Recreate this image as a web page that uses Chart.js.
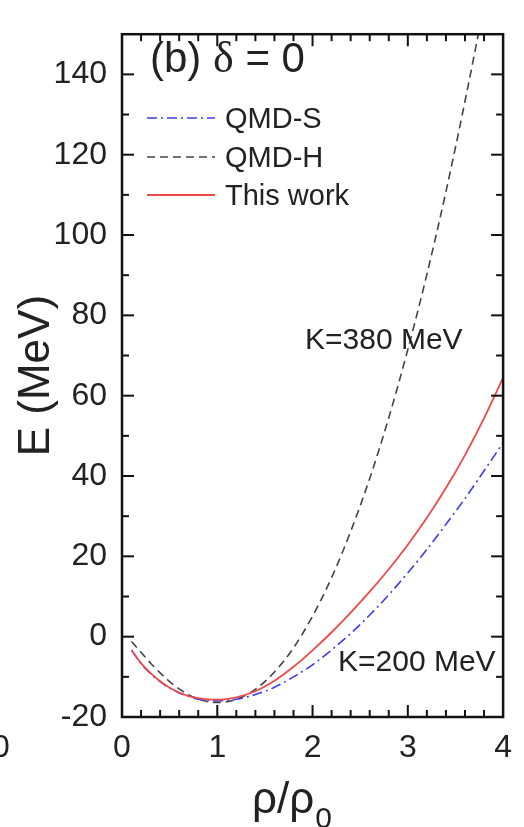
<!DOCTYPE html>
<html>
<head>
<meta charset="utf-8">
<title>E vs rho/rho0 (b) delta = 0</title>
<script src="https://cdn.jsdelivr.net/npm/chart.js@4.4.1/dist/chart.umd.min.js"></script>
<style>
  html, body { margin: 0; padding: 0; background: #fff; }
  canvas { display: block; }
</style>
</head>
<body>
<canvas id="eosChart" width="524" height="827"></canvas>
<script>
// values
const density = [0.1, 0.2, 0.3, 0.4, 0.5, 0.6, 0.7, 0.8, 0.9, 1.0, 1.2, 1.4, 1.6, 1.8, 2.0,
                 2.2, 2.4, 2.6, 2.8, 3.0, 3.2, 3.4, 3.6, 3.8, 4.0];
const qmdS = [-3.4, -6.7, -9.2, -11.2, -12.8, -14.0, -14.9, -15.6, -15.9, -16.0, -15.6, -14.4, -12.6, -10.0, -7.0,
              -3.3, 0.8, 5.4, 10.4, 15.9, 21.7, 28.0, 34.4, 41.3, 48.3];
const qmdH = [-1.2, -3.9, -6.6, -9.0, -11.2, -13.0, -14.5, -15.5, -16.2, -16.4, -15.6, -13.1, -8.8, -2.8, 5.1,
              14.7, 26.2, 39.4, 54.5, 71.5, 90.2, 110.8, 133.3, 157.5, 183.7];
const thisWork = [-3.3, -6.6, -9.1, -11.1, -12.7, -13.9, -14.8, -15.3, -15.6, -15.7, -15.1, -13.6, -11.0, -7.5, -3.4,
                  1.1, 6.0, 11.2, 16.8, 22.9, 29.6, 37.0, 45.2, 54.4, 64.5];
const seriesNames = ['QMD-S', 'QMD-H', 'This work'];
const xTicks = [0, 1, 2, 3, 4];
const yTicks = [-20, 0, 20, 40, 60, 80, 100, 120, 140];

const FONT = "'Liberation Sans', Arial, sans-serif";
const INK = '#222';

function toPoints(ys) {
    return ys.map((v, i) => ({ x: density[i], y: v }));
}

const datasets = [
    {
        label: seriesNames[0],
        data: toPoints(qmdS),
        borderColor: '#3c3ce8',
        borderWidth: 1.6,
        borderDash: [10, 4, 2, 4],
        order: 1
    },
    {
        label: seriesNames[1],
        data: toPoints(qmdH),
        borderColor: '#444',
        borderWidth: 1.6,
        borderDash: [8, 5],
        order: 2
    },
    {
        label: seriesNames[2],
        data: toPoints(thisWork),
        borderColor: '#ee4a4a',
        borderWidth: 1.8,
        order: 0
    }
];

// box with inward ticks on all four sides, legend and labels
const decorations = {
    id: 'decorations',
    afterDraw(chart) {
        const { ctx, chartArea: a, scales: { x, y } } = chart;
        ctx.save();
        ctx.strokeStyle = '#111';
        ctx.lineCap = 'butt';
        ctx.setLineDash([]);

        const seg = (x1, y1, x2, y2) => {
            ctx.beginPath();
            ctx.moveTo(x1, y1);
            ctx.lineTo(x2, y2);
            ctx.stroke();
        };

        ctx.lineWidth = 2;
        for (let i = 1; i < 20; i++) {
            const v = i * 0.2;
            const px = x.getPixelForValue(v);
            const len = i % 5 === 0 ? 12 : 7;
            seg(px, a.bottom, px, a.bottom - len);
            seg(px, a.top, px, a.top + len);
        }
        for (let v = -10; v < 150; v += 10) {
            const py = y.getPixelForValue(v);
            const len = v % 20 === 0 ? 12 : 7;
            seg(a.left, py, a.left + len, py);
            seg(a.right, py, a.right - len, py);
        }
        ctx.lineWidth = 2.5;
        ctx.strokeRect(a.left, a.top, a.right - a.left, a.bottom - a.top);

        // legend
        const rows = [118, 157, 195];
        datasets.forEach((ds, i) => {
            ctx.strokeStyle = ds.borderColor;
            ctx.lineWidth = ds.borderWidth;
            ctx.setLineDash(ds.borderDash || []);
            seg(147, rows[i], 215, rows[i]);
        });
        ctx.setLineDash([]);

        ctx.fillStyle = INK;
        ctx.textBaseline = 'alphabetic';
        ctx.textAlign = 'left';
        ctx.font = '29px ' + FONT;
        datasets.forEach((ds, i) => ctx.fillText(ds.label, 225, rows[i] + 10));

        // panel label
        ctx.font = '42px ' + FONT;
        let tx = 150;
        ctx.fillText('(b) ', tx, 72);
        tx += ctx.measureText('(b) ').width;
        ctx.font = "44px 'Liberation Serif', 'Times New Roman', serif";
        ctx.fillText('\u03b4', tx, 72);
        tx += ctx.measureText('\u03b4').width;
        ctx.font = '42px ' + FONT;
        ctx.fillText(' = 0', tx, 72);

        // annotations
        ctx.font = '30px ' + FONT;
        ctx.fillText('K=380 MeV', 305, 349);
        ctx.fillText('K=200 MeV', 338, 671);

        // x axis title with subscript
        ctx.font = '44px ' + FONT;
        let ax = 252;
        ctx.fillText('\u03c1/\u03c1', ax, 813);
        ax += ctx.measureText('\u03c1/\u03c1').width + 1;
        ctx.font = '30px ' + FONT;
        ctx.fillText('0', ax, 828);

        // cut-off label from neighbouring panel
        ctx.font = '32px ' + FONT;
        ctx.textAlign = 'center';
        ctx.textBaseline = 'middle';
        ctx.fillText('0', 1, 748);

        ctx.restore();
    }
};

new Chart(document.getElementById('eosChart').getContext('2d'), {
    type: 'line',
    data: { datasets: datasets },
    options: {
        responsive: false,
        animation: false,
        devicePixelRatio: 1,
        layout: { padding: { top: 13, right: 8, left: 0, bottom: 0 } },
        elements: {
            point: { radius: 0 },
            line: { tension: 0.4, cubicInterpolationMode: 'monotone', fill: false }
        },
        plugins: {
            legend: { display: false },
            tooltip: { enabled: false }
        },
        scales: {
            x: {
                type: 'linear',
                min: 0,
                max: 4,
                afterFit: scale => { scale.height = 110; },
                afterBuildTicks: scale => { scale.ticks = xTicks.map(v => ({ value: v })); },
                grid: { display: false, drawTicks: false },
                border: { display: false },
                ticks: {
                    color: INK,
                    padding: 12,
                    maxRotation: 0,
                    autoSkip: false,
                    font: { family: FONT, size: 32 }
                }
            },
            y: {
                type: 'linear',
                min: -20,
                max: 150,
                afterFit: scale => { scale.width = 122; },
                afterBuildTicks: scale => { scale.ticks = yTicks.map(v => ({ value: v })); },
                grid: { display: false, drawTicks: false },
                border: { display: false },
                ticks: {
                    color: INK,
                    padding: 15,
                    autoSkip: false,
                    font: { family: FONT, size: 32 }
                },
                title: {
                    display: true,
                    text: 'E (MeV)',
                    color: INK,
                    padding: { top: 10, bottom: 0 },
                    font: { family: FONT, size: 44 }
                }
            }
        }
    },
    plugins: [decorations]
});
</script>
</body>
</html>
